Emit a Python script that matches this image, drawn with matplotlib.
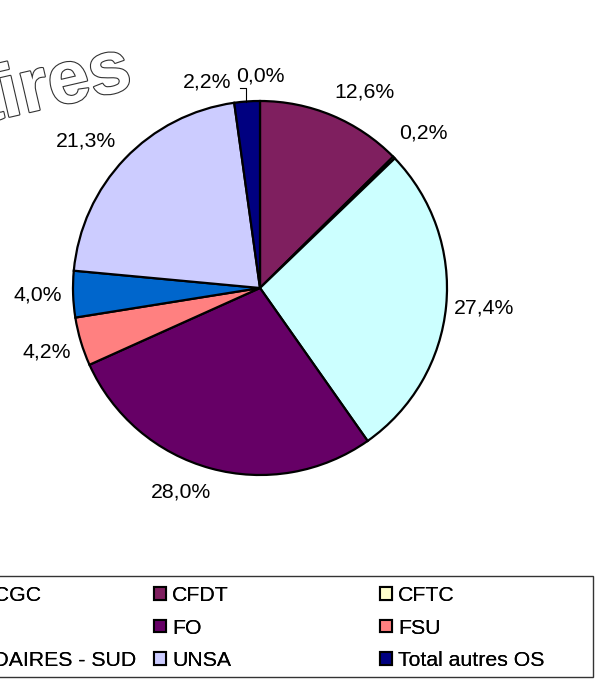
import matplotlib
matplotlib.use('Agg')
import matplotlib.pyplot as plt
import numpy as np
from matplotlib.patches import Rectangle, Patch
import matplotlib.patheffects as pe

# ---- data ----
categories = ['CFE-CGC', 'CFDT', 'CFTC', 'CGT', 'FO', 'FSU',
              'SOLIDAIRES - SUD', 'UNSA', 'Total autres OS']
values = [0.0, 12.6, 0.2, 27.4, 28.0, 4.2, 4.0, 21.3, 2.2]
colors = ['#9999FF', '#7F1F5F', '#FFFFCC', '#CCFFFF', '#660066',
          '#FF8080', '#0066CC', '#CCCCFF', '#000080']
pct_labels = [f"{v:.1f}%".replace('.', ',') for v in values]
title_text = 'Titulaires'

FONT = 'Liberation Sans'
FS = 15.3

W, H = 603, 686
fig = plt.figure(figsize=(W / 100, H / 100), dpi=100)
fig.patch.set_facecolor('white')


def fx(x):
    return x / W


def fy(y):
    return 1 - y / H


# pie geometry (pixels)
cx, cy, R = 260, 288, 187
ax = fig.add_axes([(cx - R) / W, (H - cy - R) / H, 2 * R / W, 2 * R / H])
wedges, _ = ax.pie(values, colors=colors, startangle=90, counterclock=False,
                   wedgeprops=dict(edgecolor='black', linewidth=1.6))
ax.set_xlim(-1, 1)
ax.set_ylim(-1, 1)
ax.set_aspect('auto')
ax.axis('off')

# label placement: radial distance + small nudges (pixels, +x right, +y down)
label_dist = 1.19
nudges = [(0, 11), (19, 9), (4, 0), (3, -1), (-20, -11), (0, 0), (0, 0),
          (-13, 7), (-37, 16)]
label_pos = []
for w, lab, (dx, dy) in zip(wedges, pct_labels, nudges):
    ang = np.deg2rad((w.theta1 + w.theta2) / 2)
    x = label_dist * np.cos(ang) + dx / R
    y = label_dist * np.sin(ang) - dy / R
    label_pos.append((x, y))
    ax.text(x, y, lab, ha='center', va='center', fontsize=FS,
            family=FONT, color='black', clip_on=False)

# leader line for the 0,0% label
lx, ly = label_pos[0]
edge_ang = np.deg2rad(94.3)
ex, ey = np.cos(edge_ang), np.sin(edge_ang)
sx, sy = lx - 20 / R, ly - 12 / R
ax.plot([sx, ex, ex], [sy, sy, ey], color='black', lw=0.8, clip_on=False)

# title (word-art style outline text, cut by left edge)
fig.text(fx(134), fy(88), title_text, rotation=13, rotation_mode='anchor',
         ha='right', va='baseline', fontsize=54, fontweight='bold',
         family=FONT, color='white',
         path_effects=[pe.withStroke(linewidth=1.6, foreground='#333333')])

# legend: three columns laid out on a regular grid
col_x = [-73, 154, 380]
top_y = 586
handles = [Patch(facecolor=c, edgecolor='black', linewidth=1.5) for c in colors]
for ci in range(3):
    idx = [ci, ci + 3, ci + 6]
    leg = fig.legend([handles[i] for i in idx], [categories[i] for i in idx],
                     loc='upper left', bbox_to_anchor=(fx(col_x[ci]), fy(top_y)),
                     bbox_transform=fig.transFigure, frameon=False, ncol=1,
                     borderpad=0, borderaxespad=0, handlelength=0.55,
                     handleheight=0.55, handletextpad=0.3, labelspacing=0.64,
                     prop={'family': FONT, 'size': FS})
    fig.add_artist(leg)

fig.add_artist(Rectangle((fx(-100), fy(677)), (593 + 100) / W, (677 - 576) / H,
                         transform=fig.transFigure, fill=False,
                         edgecolor='#333333', linewidth=1.0))

fig.savefig('out.png', dpi=100, facecolor='white')
